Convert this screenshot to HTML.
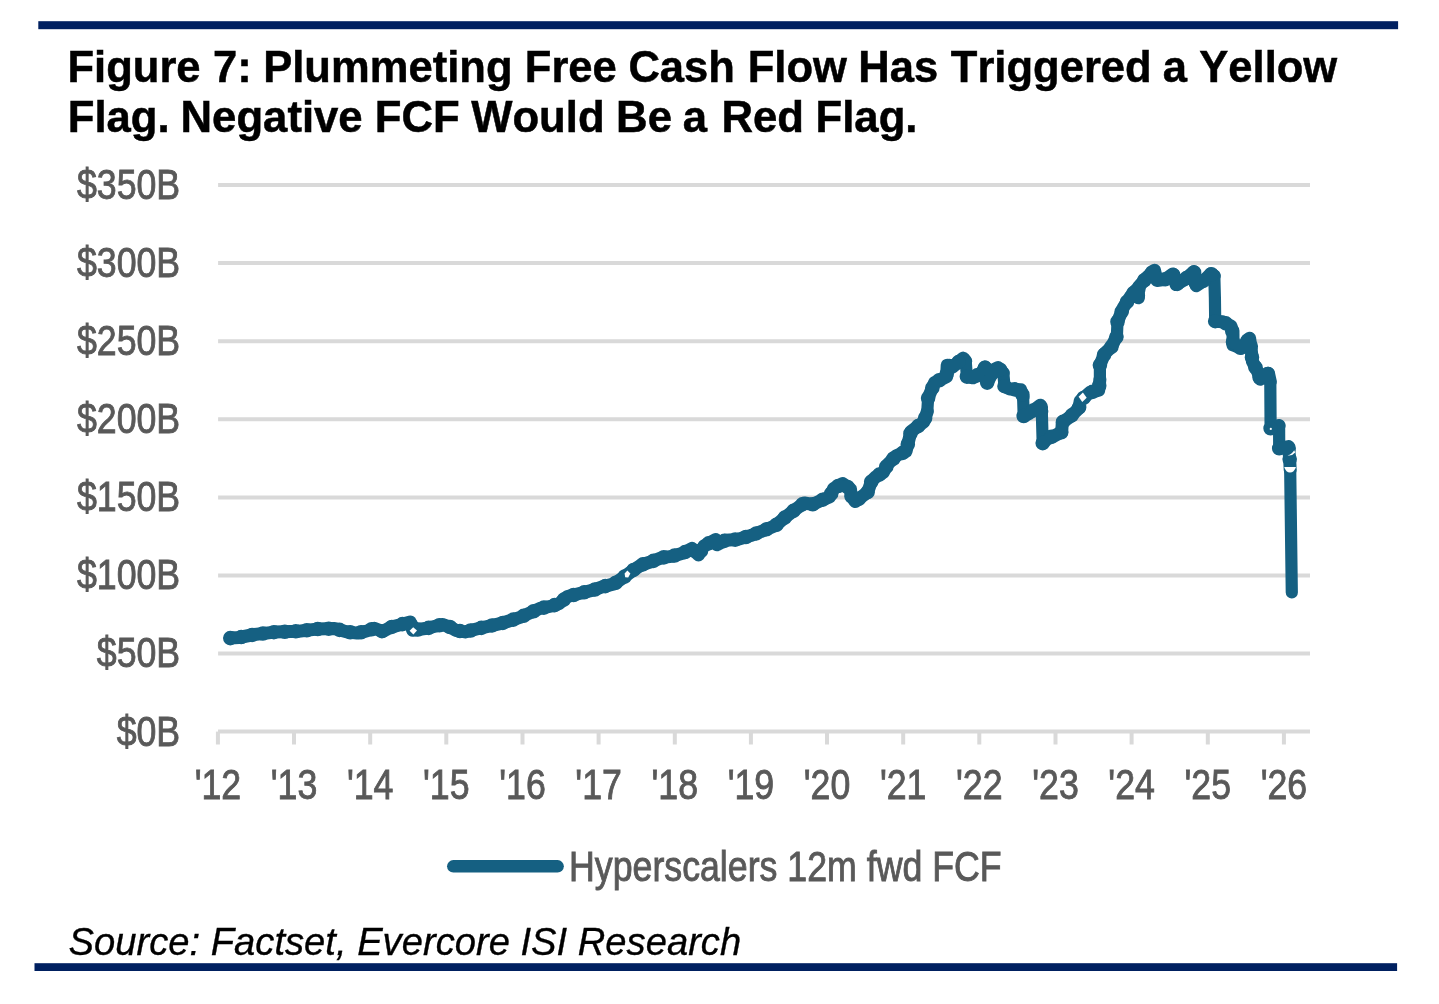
<!DOCTYPE html>
<html lang="en">
<head>
<meta charset="utf-8">
<title>Figure 7</title>
<style>
html,body{margin:0;padding:0;background:#fff;}
body{width:1439px;height:1004px;overflow:hidden;}
svg{display:block;}
</style>
</head>
<body>
<svg width="1439" height="1004" viewBox="0 0 1439 1004">
<rect x="38.3" y="21.2" width="1359.8" height="8" fill="#002060"/>
<rect x="34.5" y="963.2" width="1362.6" height="7.8" fill="#002060"/>
<g font-family="'Liberation Sans', Arial, sans-serif" font-weight="bold" font-size="45.0" fill="#000" stroke="#000" stroke-width="0.5" style="font-kerning:none">
<text transform="translate(0,81.8) scale(0.9685,1)" xml:space="preserve"><tspan x="69.66">Figure </tspan><tspan x="219.9">7: </tspan><tspan x="271.73">Plummeting </tspan><tspan x="541.86">Free </tspan><tspan x="648.83">Cash </tspan><tspan x="772.05">Flow </tspan><tspan x="886.18">Has </tspan><tspan x="981.72">Triggered </tspan><tspan x="1200.68">a </tspan><tspan x="1238.24">Yellow </tspan></text>
<text transform="translate(0,131.5) scale(0.9709,1)" xml:space="preserve"><tspan x="69.8">Flag. </tspan><tspan x="185.99">Negative </tspan><tspan x="386.01">FCF </tspan><tspan x="485.32">Would </tspan><tspan x="634.57">Be </tspan><tspan x="703.34">a </tspan><tspan x="743.03">Red </tspan><tspan x="839.98">Flag. </tspan></text>
</g>
<g stroke="#d9d9d9" stroke-width="4" fill="none">
<line x1="218.1" y1="185.0" x2="1310" y2="185.0"/>
<line x1="218.1" y1="263.1" x2="1310" y2="263.1"/>
<line x1="218.1" y1="341.2" x2="1310" y2="341.2"/>
<line x1="218.1" y1="419.3" x2="1310" y2="419.3"/>
<line x1="218.1" y1="497.4" x2="1310" y2="497.4"/>
<line x1="218.1" y1="575.5" x2="1310" y2="575.5"/>
<line x1="218.1" y1="653.5" x2="1310" y2="653.5"/>
<line x1="218" y1="731.6" x2="1310" y2="731.6"/>
<line x1="217.9" y1="731.6" x2="217.9" y2="744.5"/>
<line x1="294.0" y1="731.6" x2="294.0" y2="744.5"/>
<line x1="370.2" y1="731.6" x2="370.2" y2="744.5"/>
<line x1="446.3" y1="731.6" x2="446.3" y2="744.5"/>
<line x1="522.5" y1="731.6" x2="522.5" y2="744.5"/>
<line x1="598.6" y1="731.6" x2="598.6" y2="744.5"/>
<line x1="674.8" y1="731.6" x2="674.8" y2="744.5"/>
<line x1="750.9" y1="731.6" x2="750.9" y2="744.5"/>
<line x1="827.0" y1="731.6" x2="827.0" y2="744.5"/>
<line x1="903.2" y1="731.6" x2="903.2" y2="744.5"/>
<line x1="979.3" y1="731.6" x2="979.3" y2="744.5"/>
<line x1="1055.5" y1="731.6" x2="1055.5" y2="744.5"/>
<line x1="1131.6" y1="731.6" x2="1131.6" y2="744.5"/>
<line x1="1207.8" y1="731.6" x2="1207.8" y2="744.5"/>
<line x1="1283.9" y1="731.6" x2="1283.9" y2="744.5"/>
</g>
<g font-family="'Liberation Sans', Arial, sans-serif" font-size="42.8" fill="#595959" stroke="#595959" stroke-width="0.9">
<text transform="translate(180.2,198.9) scale(0.835,1)" text-anchor="end">$350B</text>
<text transform="translate(180.2,277.0) scale(0.835,1)" text-anchor="end">$300B</text>
<text transform="translate(180.2,355.1) scale(0.835,1)" text-anchor="end">$250B</text>
<text transform="translate(180.2,433.2) scale(0.835,1)" text-anchor="end">$200B</text>
<text transform="translate(180.2,511.3) scale(0.835,1)" text-anchor="end">$150B</text>
<text transform="translate(180.2,589.4) scale(0.835,1)" text-anchor="end">$100B</text>
<text transform="translate(180.2,667.4) scale(0.835,1)" text-anchor="end">$50B</text>
<text transform="translate(180.2,745.5) scale(0.835,1)" text-anchor="end">$0B</text>
<text transform="translate(217.9,798.8) scale(0.835,1)" text-anchor="middle">'12</text>
<text transform="translate(294.0,798.8) scale(0.835,1)" text-anchor="middle">'13</text>
<text transform="translate(370.2,798.8) scale(0.835,1)" text-anchor="middle">'14</text>
<text transform="translate(446.3,798.8) scale(0.835,1)" text-anchor="middle">'15</text>
<text transform="translate(522.5,798.8) scale(0.835,1)" text-anchor="middle">'16</text>
<text transform="translate(598.6,798.8) scale(0.835,1)" text-anchor="middle">'17</text>
<text transform="translate(674.8,798.8) scale(0.835,1)" text-anchor="middle">'18</text>
<text transform="translate(750.9,798.8) scale(0.835,1)" text-anchor="middle">'19</text>
<text transform="translate(827.0,798.8) scale(0.835,1)" text-anchor="middle">'20</text>
<text transform="translate(903.2,798.8) scale(0.835,1)" text-anchor="middle">'21</text>
<text transform="translate(979.3,798.8) scale(0.835,1)" text-anchor="middle">'22</text>
<text transform="translate(1055.5,798.8) scale(0.835,1)" text-anchor="middle">'23</text>
<text transform="translate(1131.6,798.8) scale(0.835,1)" text-anchor="middle">'24</text>
<text transform="translate(1207.8,798.8) scale(0.835,1)" text-anchor="middle">'25</text>
<text transform="translate(1283.9,798.8) scale(0.835,1)" text-anchor="middle">'26</text>
<text transform="translate(569,880.5) scale(0.835,1)">Hyperscalers 12m fwd FCF</text>
</g>
<path d="M230.3,638.1 L238.9,637.5 L254.4,634.5 L274.7,632.1 L298.6,631.2 L316.6,629.1 L334.5,628.5 L346.4,631.8 L357.2,633.1 L366.7,631.0 L374.3,628.3 L382.7,631.5 L391.1,627.1 L399.4,625.0 L410.2,622.0 L412.6,630.3 L426.9,628.3 L442.4,624.5 L450.8,627.3 L455.6,630.3 L465.1,631.9 L479.5,628.3 L491.4,625.6 L503.4,622.8 L520.0,617.4 L540.0,608.4 L551.9,606.0 L559.1,603.6 L567.5,596.5 L579.4,593.5 L593.8,589.9 L602.1,586.9 L614.1,583.9 L623.6,577.3 L633.2,570.2 L641.6,564.8 L651.1,561.8 L661.9,557.6 L671.4,556.4 L683.4,552.9 L691.9,548.4 L698.5,555.0 L703.9,546.0 L715.8,539.5 L717.0,544.8 L725.4,540.3 L737.3,539.5 L751.7,535.3 L763.6,530.5 L775.6,525.5 L785.1,517.3 L793.5,510.8 L804.3,503.0 L812.6,504.4 L823.4,499.4 L829.6,497.0 L833.7,488.4 L842.7,483.6 L850.5,489.0 L851.1,495.6 L855.2,501.6 L867.8,492.0 L871.4,481.2 L876.2,476.5 L883.3,472.3 L887.5,464.5 L896.5,455.6 L906.0,451.4 L909.0,439.4 L911.0,431.5 L923.9,421.8 L927.3,411.5 M928.1,398.1 L934.6,382.6 L946.6,376.6 L947.2,365.2 L952.6,367.0 L963.3,358.1 L965.7,361.1 M966.9,376.6 L972.9,377.8 L981.2,373.0 L985.4,367.0 M987.2,382.6 L994.4,369.4 L998.0,367.6 L1003.3,373.0 M1004.5,386.2 L1009.9,389.1 L1020.7,389.7 L1023.1,396.9 M1023.7,416.0 L1029.0,413.6 L1040.3,405.2 L1041.8,411.5 M1042.7,443.1 L1049.5,437.0 L1052.7,436.8 L1061.7,432.0 L1062.3,422.4 L1070.6,416.5 L1079.0,408.1 L1080.2,400.9 L1089.7,392.6 L1098.7,390.2 L1099.9,379.4 M1099.9,365.1 L1104.6,353.5 L1111.2,347.2 L1116.9,336.0 M1117.5,321.7 L1123.5,307.3 L1130.5,296.5 L1136.5,289.5 L1138.3,297.8 L1138.4,287.0 L1146.2,278.1 L1154.5,270.3 L1156.9,280.5 L1165.3,279.3 L1173.0,273.9 L1176.0,284.6 L1184.4,279.9 L1193.9,271.5 L1196.3,285.8 L1204.7,279.9 L1210.7,273.9 L1214.3,275.7 M1215.2,321.2 L1222.6,321.7 L1231.0,326.0 L1233.0,334.0 L1233.0,345.0 L1241.4,348.1 L1249.6,338.2 L1251.2,349.4 L1252.4,361.4 L1257.8,372.1 L1260.2,379.3 L1268.5,373.3 L1270.3,381.7 M1270.6,428.3 L1279.1,425.5 M1279.2,448.3 L1288.5,446.6 L1289.6,458.0 L1290.2,470.0" fill="none" stroke="#156082" stroke-width="13" stroke-linejoin="round" stroke-linecap="round"/>
<path d="M927.3,411.5 L928.1,398.1 M965.7,361.1 L966.9,376.6 M985.4,367.0 L987.2,382.6 M1003.3,373.0 L1004.5,386.2 M1023.1,396.9 L1023.7,416.0 M1041.8,411.5 L1042.7,443.1 M1099.9,379.4 L1099.9,365.1 M1116.9,336.0 L1117.5,321.7 M1214.3,275.7 L1214.9,297.8 M1214.9,297.8 L1215.2,321.2 M1270.3,381.7 L1270.6,428.3 M1279.1,425.5 L1279.2,448.3 M1290.2,470.0 L1291.8,592.4" fill="none" stroke="#156082" stroke-width="12.2" stroke-linejoin="round" stroke-linecap="round"/>
<path d="M230.3,638.1 L238.9,637.5 L254.4,634.5 L274.7,632.1 L298.6,631.2 L316.6,629.1 L334.5,628.5 L346.4,631.8 L357.2,633.1 L366.7,631.0 L374.3,628.3 L382.7,631.5 L391.1,627.1 L399.4,625.0 L410.2,622.0 L412.6,630.3 L426.9,628.3 L442.4,624.5 L450.8,627.3 L455.6,630.3 L465.1,631.9 L479.5,628.3 L491.4,625.6 L503.4,622.8 L520.0,617.4 L540.0,608.4 L551.9,606.0 L559.1,603.6 L567.5,596.5 L579.4,593.5 L593.8,589.9 L602.1,586.9 L614.1,583.9 L623.6,577.3 L633.2,570.2 L641.6,564.8 L651.1,561.8 L661.9,557.6 L671.4,556.4 L683.4,552.9 L691.9,548.4 L698.5,555.0 L703.9,546.0 L715.8,539.5 L717.0,544.8 L725.4,540.3 L737.3,539.5 L751.7,535.3 L763.6,530.5 L775.6,525.5 L785.1,517.3 L793.5,510.8 L804.3,503.0 L812.6,504.4 L823.4,499.4 L829.6,497.0 L833.7,488.4 L842.7,483.6 L850.5,489.0 L851.1,495.6 L855.2,501.6 L867.8,492.0 L871.4,481.2 L876.2,476.5 L883.3,472.3 L887.5,464.5 L896.5,455.6 L906.0,451.4 L909.0,439.4 L911.0,431.5 L923.9,421.8 L927.3,411.5 M928.1,398.1 L934.6,382.6 L946.6,376.6 L947.2,365.2 L952.6,367.0 L963.3,358.1 L965.7,361.1 M966.9,376.6 L972.9,377.8 L981.2,373.0 L985.4,367.0 M987.2,382.6 L994.4,369.4 L998.0,367.6 L1003.3,373.0 M1004.5,386.2 L1009.9,389.1 L1020.7,389.7 L1023.1,396.9 M1023.7,416.0 L1029.0,413.6 L1040.3,405.2 L1041.8,411.5 M1042.7,443.1 L1049.5,437.0 L1052.7,436.8 L1061.7,432.0 L1062.3,422.4 L1070.6,416.5 L1079.0,408.1 L1080.2,400.9 L1089.7,392.6 L1098.7,390.2 L1099.9,379.4 M1099.9,365.1 L1104.6,353.5 L1111.2,347.2 L1116.9,336.0 M1117.5,321.7 L1123.5,307.3 L1130.5,296.5 L1136.5,289.5 L1138.3,297.8 L1138.4,287.0 L1146.2,278.1 L1154.5,270.3 L1156.9,280.5 L1165.3,279.3 L1173.0,273.9 L1176.0,284.6 L1184.4,279.9 L1193.9,271.5 L1196.3,285.8 L1204.7,279.9 L1210.7,273.9 L1214.3,275.7 M1215.2,321.2 L1222.6,321.7 L1231.0,326.0 L1233.0,334.0 L1233.0,345.0 L1241.4,348.1 L1249.6,338.2 L1251.2,349.4 L1252.4,361.4 L1257.8,372.1 L1260.2,379.3 L1268.5,373.3 L1270.3,381.7 M1270.6,428.3 L1279.1,425.5 M1279.2,448.3 L1288.5,446.6 L1289.6,458.0 L1290.2,470.0" fill="none" stroke="#156082" stroke-width="14.6" stroke-dasharray="0 11" stroke-linejoin="round" stroke-linecap="round"/>
<g fill="#fff">
<path d="M409.6,630.8 L413.2,627.2 L417,630.6 L413.4,634.4 Z"/>
<path d="M1078.6,396.8 L1082.9,392.6 L1086.7,397.8 L1082.3,402 Z"/>
<path d="M1284.2,466.9 L1296,466.9 Q1294,472.6 1290,472.6 Q1286,472.6 1284.2,466.9 Z"/>
<path d="M1287.5,455.3 Q1292,454.3 1294.2,450.2 L1295.2,452.6 Q1292.6,456 1287.5,455.3 Z"/>
<circle cx="1270.8" cy="428.9" r="1.1"/>
<path d="M624.6,573.6 L627.4,570.4 L630.4,573.4 L628.2,577.6 L625.2,577.2 Z"/>
</g>
<line x1="453.3" y1="866.3" x2="557.6" y2="866.3" stroke="#156082" stroke-width="12.5" stroke-linecap="round"/>
<text transform="translate(68.6,955) scale(0.974,1)" font-family="'Liberation Sans', Arial, sans-serif" font-style="italic" font-size="39.2" fill="#000" stroke="#000" stroke-width="0.35">Source: Factset, Evercore ISI Research</text>
</svg>
</body>
</html>
